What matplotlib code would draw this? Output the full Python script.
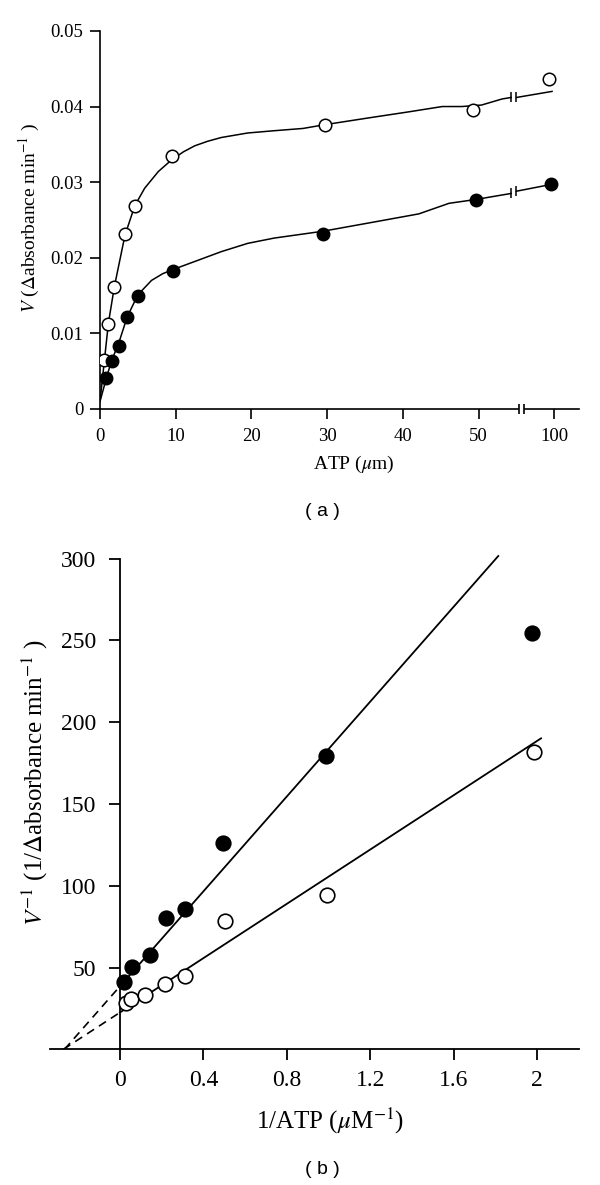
import numpy as np
import matplotlib
matplotlib.use("Agg")
import matplotlib.pyplot as plt

plt.rcParams['font.family'] = ['Liberation Serif', 'DejaVu Serif']
plt.rcParams['mathtext.fontset'] = 'stix'

# ---- panel (a): V vs ATP ----
# measured points (open = control, filled = treated)
atp_open = [0.5, 1.1, 1.9, 3.3, 4.6, 9.5, 29.7, 49.2, 99.3]
v_open = [0.0065, 0.0113, 0.0161, 0.0231, 0.0269, 0.0334, 0.0376, 0.0395, 0.0437]
atp_filled = [0.8, 1.6, 2.5, 3.6, 5.0, 9.7, 29.5, 49.6, 99.6]
v_filled = [0.0041, 0.0063, 0.0083, 0.0122, 0.0150, 0.0183, 0.0232, 0.0277, 0.0297]

# hand drawn curves (before and after the axis break)
curve_open_x = [0, 1.1, 1.9, 3.3, 4.6, 5.9, 7.7, 9.4, 11.0, 12.5, 14.2, 16.0,
                19.5, 23.0, 26.8, 29.7, 35.5, 40.8, 45.2, 47.8, 50.4, 53.1, 54.3]
curve_open_y = [0.0010, 0.0113, 0.0162, 0.0230, 0.0269, 0.0292, 0.0314, 0.0329,
                0.0340, 0.0348, 0.0354, 0.0359, 0.0365, 0.0368, 0.0371, 0.0376,
                0.0385, 0.0393, 0.0400, 0.0400, 0.0402, 0.0410, 0.0412]
curve_open_x2 = [95.0, 99.7]
curve_open_y2 = [0.0412, 0.0420]
curve_filled_x = [0, 0.9, 1.5, 2.5, 3.6, 5.0, 6.8, 8.3, 9.8, 12.5, 16.0, 19.5,
                  23.0, 29.4, 35.5, 42.1, 46.1, 49.6, 53.1, 54.3]
curve_filled_y = [0.0010, 0.0043, 0.0063, 0.0088, 0.0122, 0.0151, 0.0170, 0.0179,
                  0.0185, 0.0195, 0.0208, 0.0219, 0.0226, 0.0235, 0.0246, 0.0258,
                  0.0272, 0.0277, 0.0283, 0.0285]
curve_filled_x2 = [95.0, 99.6]
curve_filled_y2 = [0.0288, 0.0297]

xticks_a = [0, 10, 20, 30, 40, 50, 100]
yticks_a = [0, 0.01, 0.02, 0.03, 0.04, 0.05]
yticklabels_a = ['0', '0.01', '0.02', '0.03', '0.04', '0.05']

# ---- panel (b): Lineweaver-Burk ----
inv_atp_filled = [0.019, 0.056, 0.144, 0.222, 0.313, 0.495, 0.987, 1.978]
inv_v_filled = [41.0, 50.5, 57.6, 80.4, 85.6, 126.3, 179.3, 254.6]
inv_atp_open = [0.027, 0.053, 0.118, 0.214, 0.310, 0.505, 0.994, 1.987]
inv_v_open = [28.1, 30.7, 33.2, 39.9, 45.0, 78.4, 94.3, 181.9]

# fitted lines: intercept, slope, end of the solid part
fit_filled = (38.5, 145.0, 1.814)
fit_open = (22.5, 83.0, 2.019)

xticks_b = [0, 0.4, 0.8, 1.2, 1.6, 2]
xticklabels_b = ['0', '0.4', '0.8', '1.2', '1.6', '2']
yticks_b = [50, 100, 150, 200, 250, 300]


# axis break: 56..96 is squeezed out
def fwd(x):
    x = np.asarray(x, dtype=float)
    return np.where(x <= 56, x, x - 40)


def inv(x):
    x = np.asarray(x, dtype=float)
    return np.where(x <= 56, x, x + 40)


fig = plt.figure(figsize=(6, 11.85), dpi=100)

ax1 = fig.add_axes([0.1667, 0.6549, 0.7988, 0.3190])
ax1.set_xscale('function', functions=(fwd, inv))
ax1.plot(curve_open_x, curve_open_y, color='black', lw=1.1)
ax1.plot(curve_open_x2, curve_open_y2, color='black', lw=1.1)
ax1.plot(curve_filled_x, curve_filled_y, color='black', lw=1.1)
ax1.plot(curve_filled_x2, curve_filled_y2, color='black', lw=1.1)
# break marks on the curves
for xs, ys, xs2, ys2 in [(curve_open_x, curve_open_y, curve_open_x2, curve_open_y2),
                         (curve_filled_x, curve_filled_y, curve_filled_x2, curve_filled_y2)]:
    ax1.plot([xs[-1], xs2[0]], [ys[-1], ys2[0]], ls='none', marker='|',
             ms=7, mew=1.1, color='black')

ax1.plot(atp_open, v_open, ls='none', marker='o', ms=9, mfc='white',
         mec='black', mew=1.1, zorder=4)
ax1.plot(atp_filled, v_filled, ls='none', marker='o', ms=9, mfc='black',
         mec='black', zorder=4)

ax1.set_xlim(0, 103.3)
ax1.set_ylim(0, 0.05)
ax1.set_xticks(xticks_a)
ax1.set_xticklabels([str(t) for t in xticks_a])
ax1.set_yticks(yticks_a)
ax1.set_yticklabels(yticklabels_a)
for s in ['top', 'right']:
    ax1.spines[s].set_visible(False)
for s in ['left', 'bottom']:
    ax1.spines[s].set_linewidth(1.2)
ax1.tick_params(direction='out', length=7, width=1.2, labelsize=13.5, pad=5)
ax1.tick_params(axis='x', pad=7)

# break in the x axis
ax1.plot([55.6, 95.7], [0, 0], color='white', lw=3, clip_on=False, zorder=5)
ax1.plot([55.3, 96.0], [0, 0], ls='none', marker='|', ms=7, mew=1.2,
         color='black', clip_on=False, zorder=6)

ax1.set_xlabel(r'ATP ($\mu$m)', fontsize=14)
ax1.xaxis.set_label_coords(0.53, -0.118)
ax1.set_ylabel(r'$V$ ($\Delta$absorbance min$^{-1}$ )', fontsize=14)
ax1.yaxis.set_label_coords(-0.121, 0.505)

fig.text(0.537, 0.568, '( a )', fontsize=14, family='Liberation Sans',
         ha='center', va='center')

# ---- panel (b) ----
ax2 = fig.add_axes([0.083, 0.1145, 0.882, 0.4197])
for (b, m, xend), mk_face, xs, ys in [
        (fit_filled, 'black', inv_atp_filled, inv_v_filled),
        (fit_open, 'white', inv_atp_open, inv_v_open)]:
    x_int = -b / m
    ax2.plot([x_int, 0], [0, b], color='black', lw=1.2, dashes=(5, 3.5))
    ax2.plot([0, xend], [b, b + m * xend], color='black', lw=1.3)
    ax2.plot(xs, ys, ls='none', marker='o', ms=10.5, mfc=mk_face,
             mec='black', mew=1.2, zorder=4)

ax2.set_xlim(-0.336, 2.201)
ax2.set_ylim(0, 304)
ax2.spines['left'].set_position(('data', 0))
ax2.spines['left'].set_bounds(0, 300)
for s in ['top', 'right']:
    ax2.spines[s].set_visible(False)
for s in ['left', 'bottom']:
    ax2.spines[s].set_linewidth(1.3)
ax2.set_xticks(xticks_b)
ax2.set_xticklabels(xticklabels_b)
ax2.set_yticks(yticks_b)
ax2.set_yticklabels([str(t) for t in yticks_b])
ax2.tick_params(direction='out', length=8, width=1.3, labelsize=17)
ax2.tick_params(axis='x', pad=7)
ax2.tick_params(axis='y', pad=9)

ax2.set_xlabel(r'1/ATP ($\mu$M$^{-1}$)', fontsize=18)
ax2.xaxis.set_label_coords(0.53, -0.113)
ax2.set_ylabel(r'$V^{-1}$ (1/$\Delta$absorbance min$^{-1}$ )', fontsize=18)
ax2.yaxis.set_label_coords(0.0, 0.537)

fig.text(0.537, 0.0127, '( b )', fontsize=14, family='Liberation Sans',
         ha='center', va='center')

fig.savefig('out.png', dpi=100)
